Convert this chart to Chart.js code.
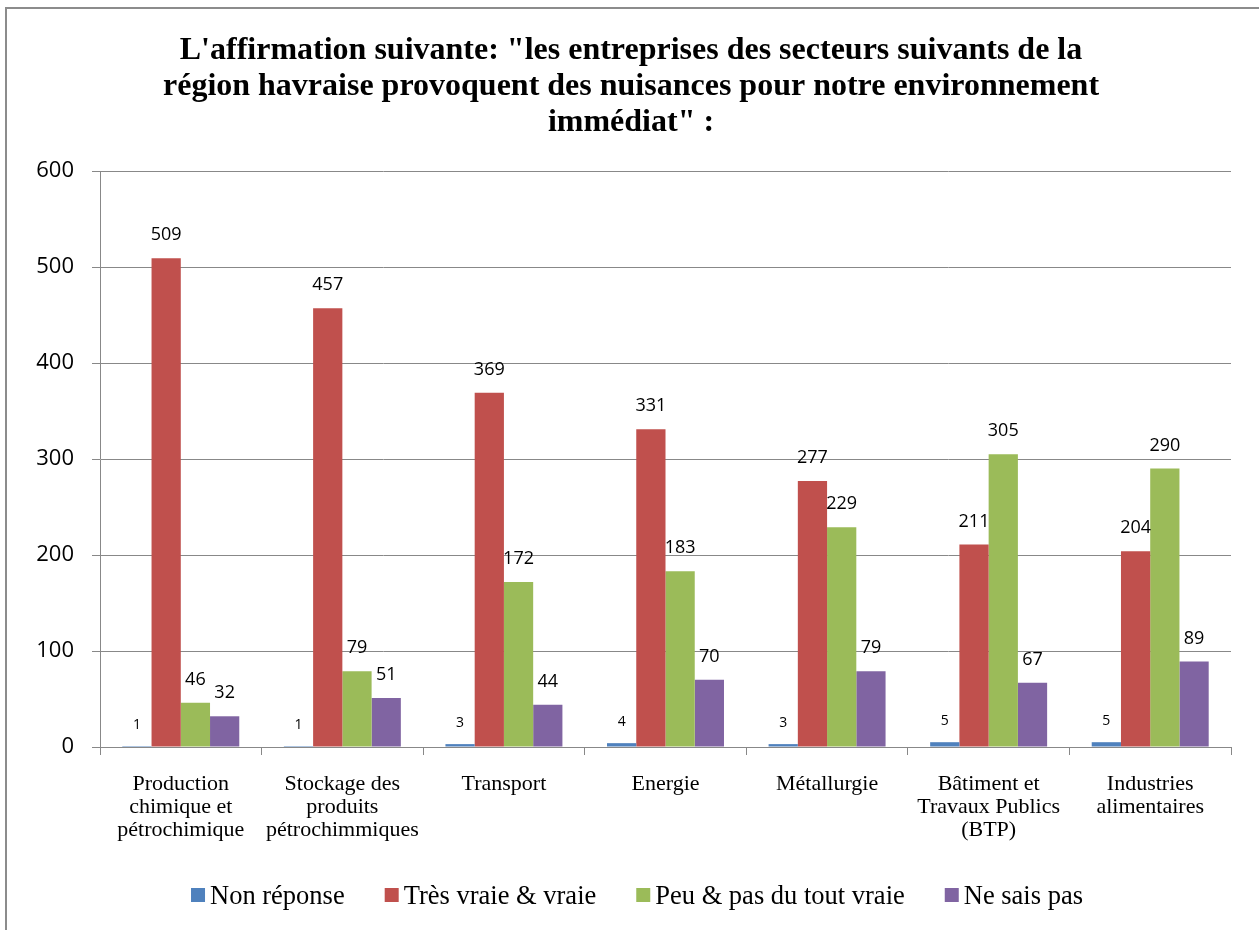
<!DOCTYPE html>
<html lang="fr">
<head>
<meta charset="utf-8">
<title>Nuisances environnementales - région havraise</title>
<script src="https://cdn.jsdelivr.net/npm/chart.js@4.4.1/dist/chart.umd.min.js"></script>
<style>
  html, body { margin: 0; padding: 0; background: #fff; }
  .wrap { width: 1259px; height: 930px; }
</style>
</head>
<body>
<div class="wrap"><canvas id="chart" width="1259" height="930"></canvas></div>
<script>
const categories = [
  ['Production', 'chimique et', 'pétrochimique'],
  ['Stockage des', 'produits', 'pétrochimmiques'],
  ['Transport'],
  ['Energie'],
  ['Métallurgie'],
  ['Bâtiment et', 'Travaux Publics', '(BTP)'],
  ['Industries', 'alimentaires']
];
const seriesNames = ['Non réponse', 'Très vraie & vraie', 'Peu & pas du tout vraie', 'Ne sais pas'];
const nonReponse = [1, 1, 3, 4, 3, 5, 5];
const tresVraie = [509, 457, 369, 331, 277, 211, 204];
const peuPasVraie = [46, 79, 172, 183, 229, 305, 290];
const neSaisPas = [32, 51, 44, 70, 79, 67, 89];
const yTicks = [0, 100, 200, 300, 400, 500, 600];

const colors = ['#4F81BD', '#C0504D', '#9BBB59', '#8064A2'];
const gridGray = '#888888';
const serif = '"Liberation Serif", "Times New Roman", serif';
const sans = '"Open Sans", "Liberation Sans", sans-serif';

// white page + the grey frame that sits top/left of the original picture
const framePlugin = {
  id: 'frame',
  beforeDraw(chart) {
    const ctx = chart.ctx;
    ctx.save();
    ctx.fillStyle = '#fff';
    ctx.fillRect(0, 0, chart.width, chart.height);
    ctx.strokeStyle = '#8c8c8c';
    ctx.lineWidth = 2;
    ctx.strokeRect(6, 8, chart.width + 20, chart.height + 20);
    ctx.restore();
  }
};

// value labels above each bar (small ones for "Non réponse")
const valueLabels = {
  id: 'valueLabels',
  afterDatasetsDraw(chart) {
    const ctx = chart.ctx;
    ctx.save();
    ctx.fillStyle = '#000';
    ctx.textAlign = 'center';
    ctx.textBaseline = 'middle';
    chart.data.datasets.forEach((ds, i) => {
      const meta = chart.getDatasetMeta(i);
      ctx.font = (i === 0 ? '14px ' : '18px ') + sans;
      meta.data.forEach((bar, j) => {
        ctx.fillText(String(ds.data[j]), bar.x, bar.y - (i === 0 ? 21 : 23));
      });
    });
    ctx.restore();
  }
};

// Excel-like legend: small square, tight gap, wide spacing between entries
const bottomLegend = {
  id: 'bottomLegend',
  afterDraw(chart) {
    const ctx = chart.ctx;
    const box = 14, gap = 5, spacing = 40;
    const font = '26.5px ' + serif;
    ctx.save();
    ctx.font = font;
    const items = chart.data.datasets.map(ds => ({
      text: ds.label, color: ds.backgroundColor, w: ctx.measureText(ds.label).width
    }));
    const total = items.reduce((s, it) => s + box + gap + it.w, 0) + spacing * (items.length - 1);
    let x = 637 - total / 2;
    const cy = 895;
    ctx.textBaseline = 'alphabetic';
    ctx.textAlign = 'left';
    items.forEach(it => {
      ctx.fillStyle = it.color;
      ctx.fillRect(x, cy - box / 2, box, box);
      x += box + gap;
      ctx.fillStyle = '#000';
      ctx.fillText(it.text, x, cy + 9);
      x += it.w + spacing;
    });
    ctx.restore();
  }
};

const series = [nonReponse, tresVraie, peuPasVraie, neSaisPas];

new Chart(document.getElementById('chart'), {
  type: 'bar',
  data: {
    labels: categories,
    datasets: series.map((values, i) => ({
      label: seriesNames[i],
      data: values,
      backgroundColor: colors[i],
      borderWidth: 0,
      categoryPercentage: 0.724,
      barPercentage: 1.0
    }))
  },
  options: {
    responsive: false,
    animation: false,
    devicePixelRatio: 1,
    layout: { padding: { left: 31, right: 28, top: 0, bottom: 70 } },
    plugins: {
      title: {
        display: true,
        text: [
          'L\'affirmation suivante: "les entreprises des secteurs suivants de la',
          'région havraise provoquent des nuisances pour notre environnement',
          'immédiat" :'
        ],
        color: '#000',
        font: { family: serif, size: 32, weight: 'bold', lineHeight: '36px' },
        padding: { top: 33, bottom: 30 }
      },
      legend: { display: false },
      tooltip: { enabled: false }
    },
    scales: {
      x: {
        grid: {
          offset: true,
          drawOnChartArea: false,
          drawTicks: true,
          tickLength: 8,
          color: gridGray
        },
        border: { color: gridGray, width: 1 },
        ticks: {
          color: '#000',
          font: { family: serif, size: 22, lineHeight: '23px' },
          padding: 18,
          maxRotation: 0,
          autoSkip: false
        }
      },
      y: {
        min: 0,
        max: 600,
        afterBuildTicks(scale) {
          scale.ticks = yTicks.map(v => ({ value: v }));
        },
        afterFit(scale) {
          scale.width = 69;
        },
        grid: { color: gridGray, tickLength: 8 },
        border: { color: gridGray, width: 1 },
        ticks: {
          color: '#000',
          font: { family: sans, size: 22 },
          padding: 18
        }
      }
    }
  },
  plugins: [framePlugin, valueLabels, bottomLegend]
});
</script>
</body>
</html>
